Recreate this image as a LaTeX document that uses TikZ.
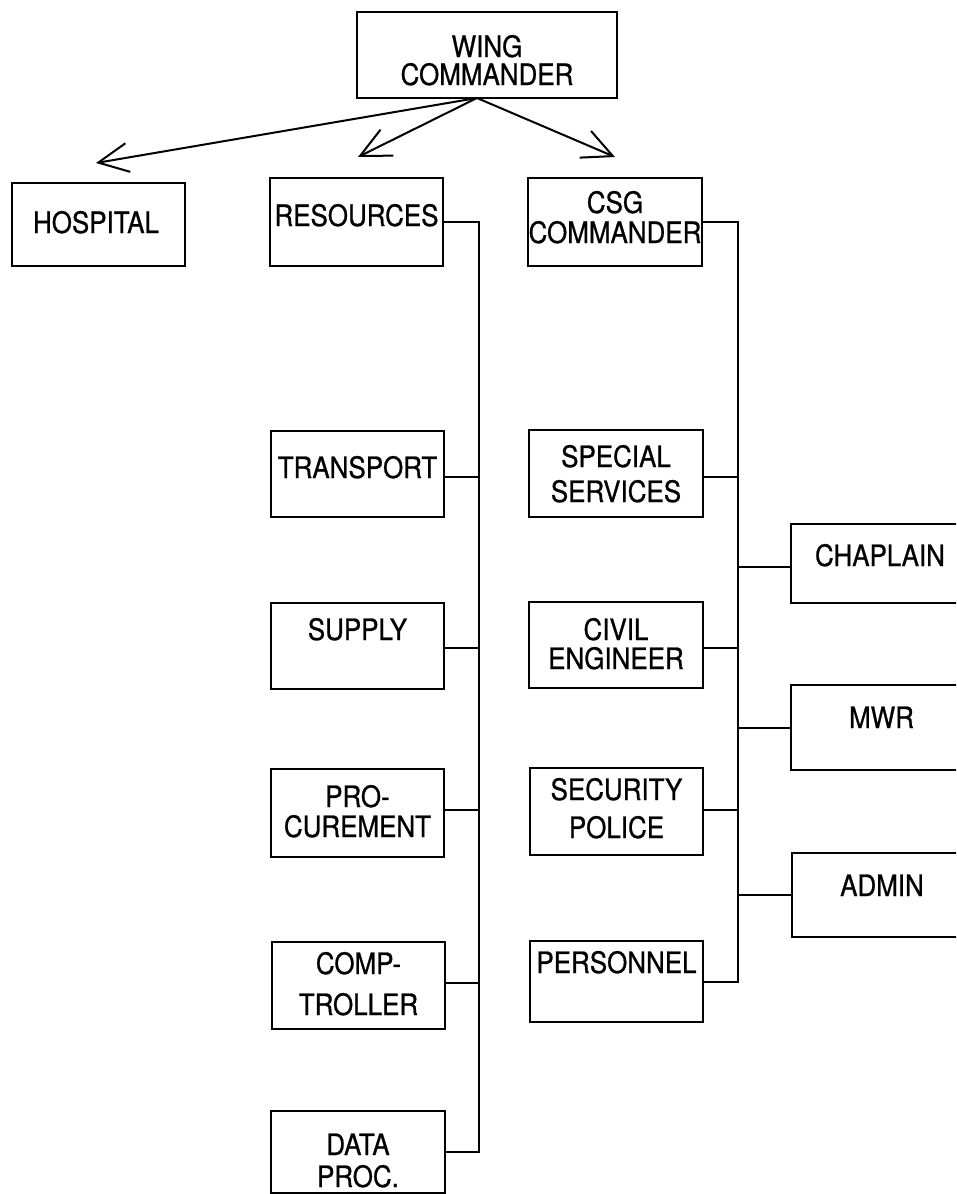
\documentclass[tikz,border=0pt]{standalone}
\usepackage{fontspec}
\setmainfont{TeX Gyre Heros}[FakeStretch=0.88,FakeBold=0.8]
\usetikzlibrary{arrows.meta}
\begin{document}
\begin{tikzpicture}[x=1pt,y=-1pt,
  box/.style={draw, line width=2pt, inner sep=0pt, outer sep=0pt},
  lbl/.style={anchor=base, inner sep=0pt, font=\fontsize{29.5}{35}\selectfont},
  conn/.style={line width=2pt},
  arr/.style={line width=2pt, -{Straight Barb[length=30pt,width=29pt,line width=2pt]}}]
\useasboundingbox (0,0) rectangle (956,1194);
\clip (0,0) rectangle (956,1194);

% boxes
\node[box,minimum width=260pt,minimum height=86pt] (wing) at (487,55) {};
\node[box,minimum width=173pt,minimum height=83pt] (hospital) at (98.5,224.5) {};
\node[box,minimum width=173pt,minimum height=88pt] (resources) at (356.5,222) {};
\node[box,minimum width=174pt,minimum height=88pt] (csg) at (615,222) {};
\node[box,minimum width=173pt,minimum height=86pt] (transport) at (357.5,474) {};
\node[box,minimum width=174pt,minimum height=87pt] (special) at (616,473.5) {};
\node[box,minimum width=173pt,minimum height=86pt] (supply) at (357.5,646) {};
\node[box,minimum width=174pt,minimum height=86pt] (civil) at (616,645) {};
\node[box,minimum width=173pt,minimum height=88pt] (procurement) at (357.5,813) {};
\node[box,minimum width=173pt,minimum height=87pt] (security) at (616.5,811.5) {};
\node[box,minimum width=173pt,minimum height=87pt] (comptroller) at (358.5,985.5) {};
\node[box,minimum width=173pt,minimum height=81pt] (personnel) at (616.5,981.5) {};
\node[box,minimum width=174pt,minimum height=82pt] (dataproc) at (358,1152) {};
\node[box,minimum width=179pt,minimum height=79pt] (chaplain) at (880.5,563.5) {};
\node[box,minimum width=179pt,minimum height=85pt] (mwr) at (880.5,727.5) {};
\node[box,minimum width=178pt,minimum height=84pt] (admin) at (881,895) {};

% labels
\node[lbl] (wing-t1) at (487,57) {WING};
\node[lbl] (wing-t2) at (487,85) {COMMANDER};
\node[lbl] (hospital-t) at (96,233) {HOSPITAL};
\node[lbl] (resources-t) at (356.5,226) {RESOURCES};
\node[lbl] (csg-t1) at (615,213) {CSG};
\node[lbl] (csg-t2) at (615,243) {COMMANDER};
\node[lbl] (transport-t) at (357.5,478) {TRANSPORT};
\node[lbl] (special-t1) at (616,467) {SPECIAL};
\node[lbl] (special-t2) at (616,502) {SERVICES};
\node[lbl] (supply-t) at (357.5,640) {SUPPLY};
\node[lbl] (civil-t1) at (616,640) {CIVIL};
\node[lbl] (civil-t2) at (616,669) {ENGINEER};
\node[lbl] (procurement-t1) at (357.5,807) {PRO-};
\node[lbl] (procurement-t2) at (357.5,837) {CUREMENT};
\node[lbl] (security-t1) at (616.5,800) {SECURITY};
\node[lbl] (security-t2) at (616.5,838) {POLICE};
\node[lbl] (comptroller-t1) at (358.5,974) {COMP-};
\node[lbl] (comptroller-t2) at (358.5,1015) {TROLLER};
\node[lbl] (personnel-t) at (616.5,973) {PERSONNEL};
\node[lbl] (dataproc-t1) at (358,1155) {DATA};
\node[lbl] (dataproc-t2) at (358,1187) {PROC.};
\node[lbl] (chaplain-t) at (880,566) {CHAPLAIN};
\node[lbl] (mwr-t) at (881.5,728) {MWR};
\node[lbl] (admin-t) at (882,896) {ADMIN};

% arrows from wing commander
\coordinate (wingfoot) at ([xshift=-10pt]wing.south);
\coordinate (hosp-tip) at ([xshift=-2.5pt,yshift=20pt]hospital.north);
\coordinate (res-tip) at ([xshift=1.5pt,yshift=21pt]resources.north);
\coordinate (csg-tip) at ([yshift=21pt]csg.north);
\draw[arr] (wingfoot) -- (hosp-tip);
\draw[arr] (wingfoot) -- (res-tip);
\draw[arr] (wingfoot) -- (csg-tip);

% buses
\coordinate (lbus) at (479,0);
\coordinate (rbus) at (738,0);
\draw[conn] (resources.east) -- (resources.east -| lbus) -- (dataproc.east -| lbus) -- (dataproc.east);
\draw[conn] (csg.east) -- (csg.east -| rbus) -- (personnel.east -| rbus) -- (personnel.east);

% left branches
\coordinate (transport-c) at ([yshift=-3pt]transport.east);
\coordinate (supply-c) at ([yshift=-2pt]supply.east);
\coordinate (procurement-c) at ([yshift=3pt]procurement.east);
\coordinate (comptroller-c) at ([yshift=2.5pt]comptroller.east);
\draw[conn] (transport-c) -- (transport-c -| lbus);
\draw[conn] (supply-c) -- (supply-c -| lbus);
\draw[conn] (procurement-c) -- (procurement-c -| lbus);
\draw[conn] (comptroller-c) -- (comptroller-c -| lbus);

% right branches
\coordinate (special-c) at ([yshift=-3.5pt]special.east);
\coordinate (civil-c) at ([yshift=-3pt]civil.east);
\coordinate (security-c) at ([yshift=2pt]security.east);
\draw[conn] (special-c) -- (special-c -| rbus);
\draw[conn] (civil-c) -- (civil-c -| rbus);
\draw[conn] (security-c) -- (security-c -| rbus);
\coordinate (chaplain-c) at ([yshift=-3.5pt]chaplain.west);
\draw[conn] (chaplain-c) -- (chaplain-c -| rbus);
\draw[conn] (mwr.west) -- (mwr.west -| rbus);
\draw[conn] (admin.west) -- (admin.west -| rbus);
\end{tikzpicture}
\end{document}
